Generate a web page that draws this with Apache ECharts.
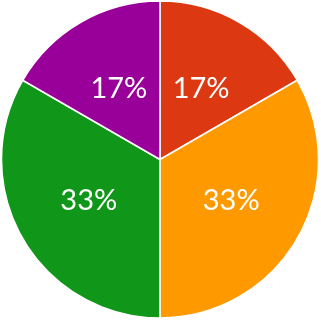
<!DOCTYPE html>
<html>
<head>
<meta charset="utf-8">
<script src="https://cdn.jsdelivr.net/npm/echarts@6/dist/echarts.min.js"></script>
<style>html,body{margin:0;padding:0;background:#fff;}#c{width:321px;height:321px;}</style>
</head>
<body>
<div id="c"></div>
<script>
var categories = ['A', 'B', 'C', 'D'];
var values = [1, 2, 2, 1];
var colors = ['#DC3912', '#FF9900', '#109618', '#990099'];

var chart = echarts.init(document.getElementById('c'));
chart.setOption({
  animation: false,
  series: [{
    type: 'pie',
    center: [160, 159.5],
    radius: [0, 158.5],
    startAngle: 90,
    clockwise: true,
    percentPrecision: 0,
    data: categories.map(function (n, i) {
      return { name: n, value: values[i], itemStyle: { color: colors[i] } };
    }),
    itemStyle: { borderColor: '#fff', borderWidth: 1.5 },
    label: {
      show: true,
      position: 'inner',
      formatter: '{d}%',
      color: '#fff',
      fontSize: 29,
      fontFamily: 'Lato',
      padding: [3, 0, 0, 0]
    },
    labelLine: { show: false },
    emphasis: { disabled: true }
  }]
});
</script>
</body>
</html>
